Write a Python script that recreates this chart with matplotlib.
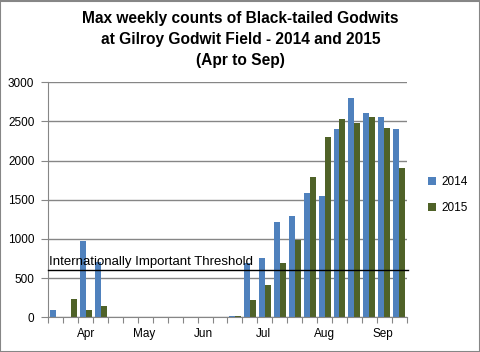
import matplotlib
matplotlib.use("Agg")
import matplotlib.pyplot as plt
import numpy as np

plt.rcParams['font.family'] = ['Liberation Sans', 'DejaVu Sans']

# weekly max counts, Apr -> Sep (24 weeks)
counts_2014 = [94, 0, 975, 700, 0, 0, 0, 0, 0, 0, 0, 0, 17, 690, 760, 1220,
               1295, 1587, 1549, 2404, 2800, 2608, 2557, 2404]
counts_2015 = [0, 235, 94, 145, 0, 0, 0, 0, 0, 0, 0, 0, 15, 220, 410, 695,
               990, 1791, 2302, 2532, 2481, 2557, 2417, 1906]
months = ["Apr", "May", "Jun", "Jul", "Aug", "Sep"]
month_pos = [2.5, 6.45, 10.4, 14.4, 18.5, 22.4]
threshold = 610
yticks = [0, 500, 1000, 1500, 2000, 2500, 3000]

blue = "#4f81bd"
green = "#4f6228"

fig = plt.figure(figsize=(4.81, 3.52), dpi=100)
ax = fig.add_axes([0.1004, 0.0986, 0.7451, 0.6676])

n = len(counts_2014)
x = np.arange(n)
w = 0.4
ax.bar(x + 0.1, counts_2014, width=w, align='edge', color=blue, label="2014", zorder=2)
ax.bar(x + 0.1 + w, counts_2015, width=w, align='edge', color=green, label="2015", zorder=2)

ax.set_xlim(0, n)
ax.set_ylim(0, 3000)
ax.set_yticks(yticks)
ax.yaxis.grid(True, color="#868686", linewidth=1)
ax.set_axisbelow(True)

# category boundaries as ticks, month labels between
ax.set_xticks(np.arange(n + 1))
ax.set_xticklabels([])
ax.set_xticks(month_pos, minor=True)
ax.set_xticklabels(months, minor=True)
ax.tick_params(axis='x', which='minor', length=0, pad=8, labelsize=8.5)
ax.tick_params(axis='x', which='major', length=4, color="#868686")
ax.tick_params(axis='y', length=5, color="#868686", labelsize=8.5, pad=5)

for s in ["top", "right"]:
    ax.spines[s].set_visible(False)
for s in ["left", "bottom"]:
    ax.spines[s].set_color("#868686")

ax.axhline(threshold, color="black", linewidth=1, zorder=3, xmin=0, xmax=1.005, clip_on=False)
ax.text(0.05, threshold + 15, "Internationally Important Threshold", fontsize=9.5,
        ha='left', va='bottom', zorder=4)

fig.suptitle("Max weekly counts of Black-tailed Godwits\nat Gilroy Godwit Field - 2014 and 2015\n(Apr to Sep)",
             fontsize=11.2, fontweight='bold', y=0.97, x=0.5, linespacing=1.5)

ax.legend(loc='center left', bbox_to_anchor=(1.03, 0.52), frameon=False, fontsize=8.5,
          handlelength=0.7, handleheight=0.7, handletextpad=0.4, labelspacing=1.2)

fig.patches.append(plt.Rectangle((0.001, 0.001), 0.997, 0.997, transform=fig.transFigure,
                                 fill=False, edgecolor="#868686", linewidth=1.5))

fig.savefig("out.png", dpi=100)
